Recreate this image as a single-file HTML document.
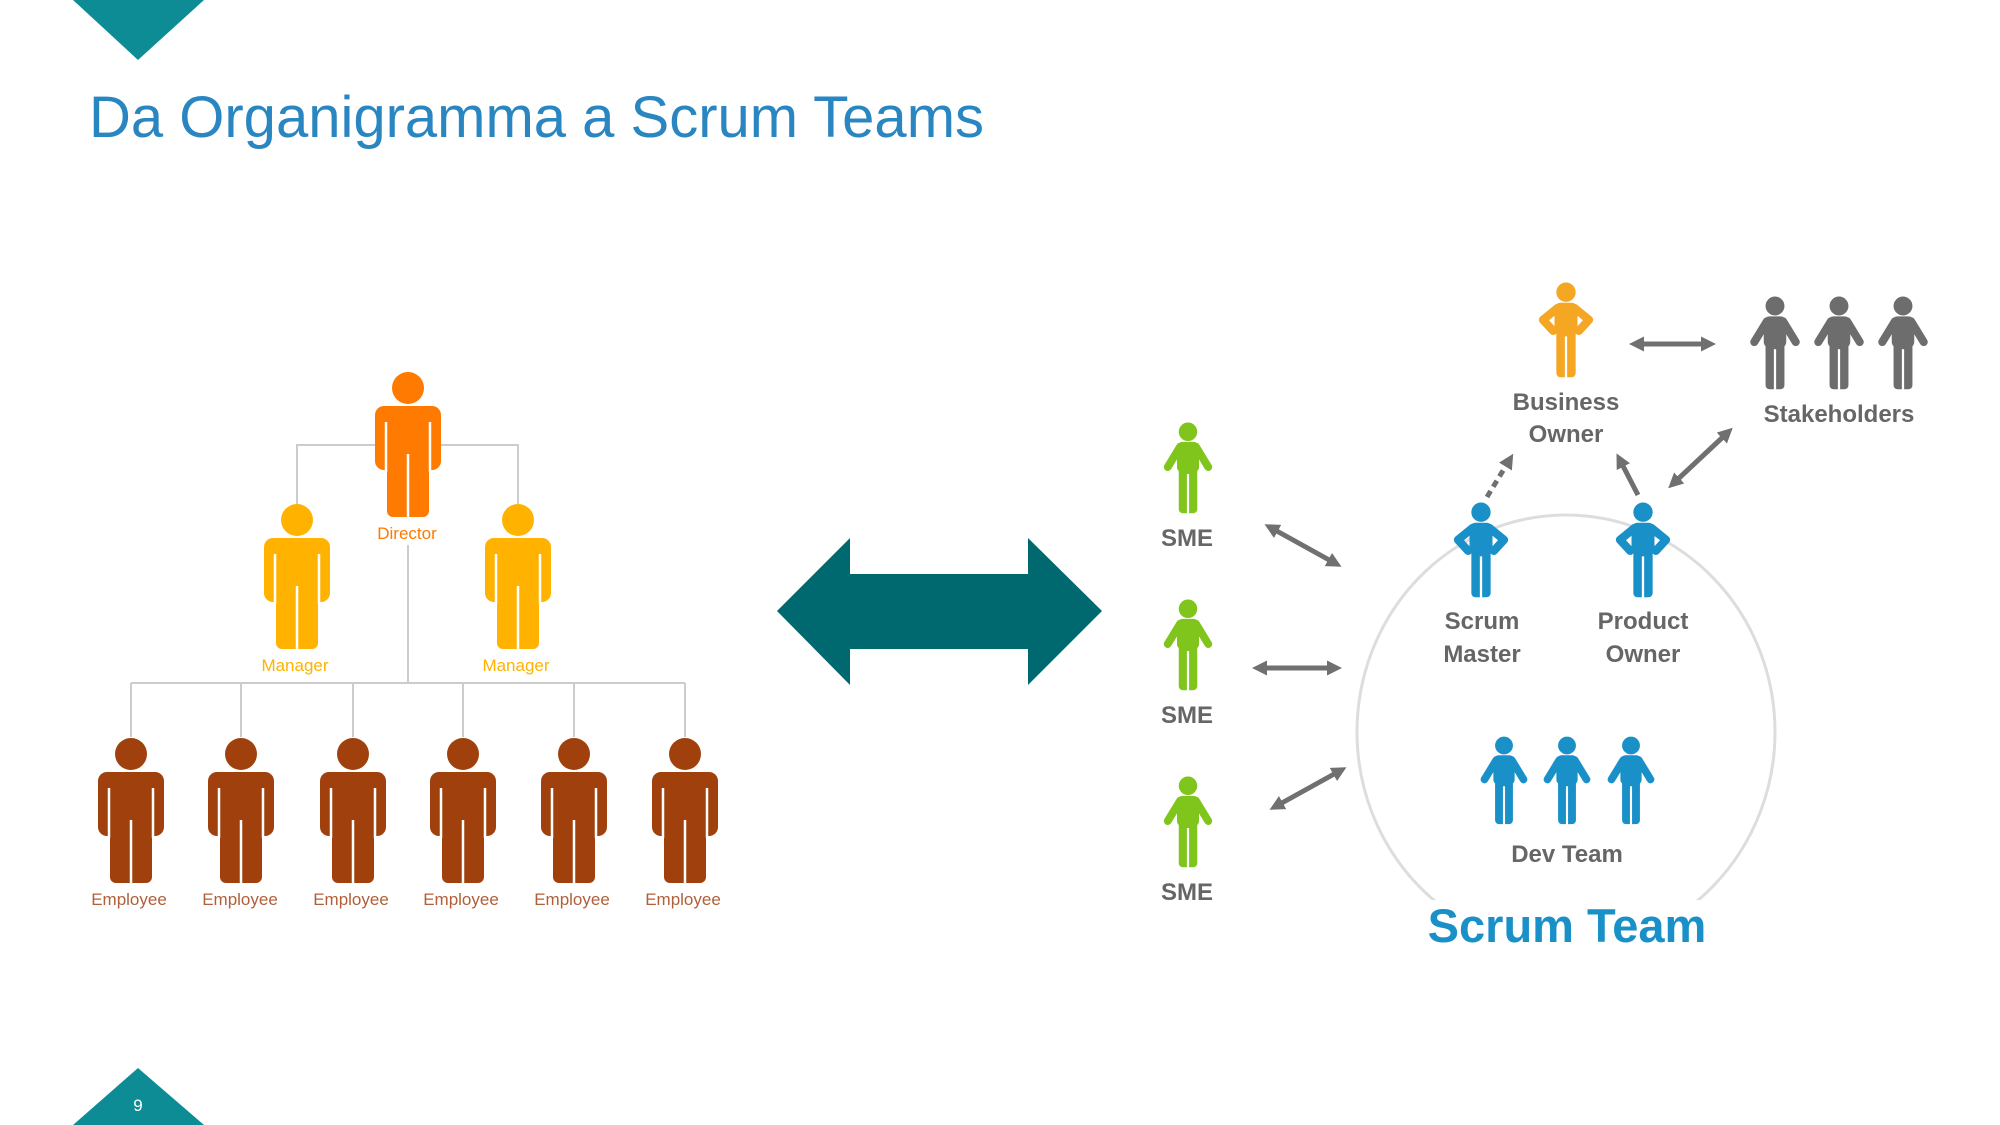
<!DOCTYPE html>
<html><head><meta charset="utf-8"><style>html,body{margin:0;padding:0;background:#fff;width:2000px;height:1125px;overflow:hidden}svg{display:block}</style></head>
<body>
<svg width="2000" height="1125" viewBox="0 0 2000 1125" xmlns="http://www.w3.org/2000/svg" font-family="Liberation Sans, sans-serif">
<defs>
<g id="p">
<circle cx="0" cy="-18" r="16"/>
<rect x="-33" y="0" width="66" height="64" rx="9"/>
<rect x="-21" y="40" width="42" height="71" rx="6"/>
</g>
<g id="pl" stroke="#fff" stroke-width="2.5">
<line x1="-22" y1="16" x2="-22" y2="66"/><line x1="22" y1="16" x2="22" y2="66"/>
<line x1="0" y1="48" x2="0" y2="112"/>
</g>
<g id="r">
<circle cx="0" cy="10" r="10"/>
<rect x="-12" y="22" width="24" height="34" rx="6"/>
<line x1="-9" y1="27" x2="-23" y2="50" stroke-width="9" stroke-linecap="round"/>
<line x1="9" y1="27" x2="23" y2="50" stroke-width="9" stroke-linecap="round"/>
<rect x="-10" y="48" width="20" height="54" rx="4"/>
<line x1="0" y1="58" x2="0" y2="103" stroke="#fff" stroke-width="2.5"/>
</g>
<g id="h">
<circle cx="0" cy="10" r="10"/>
<rect x="-12" y="22" width="24" height="34" rx="6"/>
<polyline points="-9,27 -25,40 -14,52" fill="none" stroke-width="9" stroke-linecap="round" stroke-linejoin="round"/>
<polyline points="9,27 25,40 14,52" fill="none" stroke-width="9" stroke-linecap="round" stroke-linejoin="round"/>
<rect x="-10" y="48" width="20" height="54" rx="4"/>
<line x1="0" y1="58" x2="0" y2="103" stroke="#fff" stroke-width="2.5"/>
</g>
<marker id="a" viewBox="0 0 10 10" refX="2" refY="5" markerWidth="3" markerHeight="3" orient="auto-start-reverse"><path d="M0,0L10,5L0,10z" fill="#707070"/></marker>
</defs>

<polygon points="73,0 204,0 138,60" fill="#0e8c96"/>
<polygon points="73,1125 204,1125 138,1068" fill="#0e8c96"/>
<text x="138" y="1111" font-size="17" fill="#fff" text-anchor="middle">9</text>
<text x="89" y="137" font-size="58" fill="#2a86c0">Da Organigramma a Scrum Teams</text>

<g stroke="#cccccc" stroke-width="2" fill="none">
<polyline points="297,504 297,445 518,445 518,504"/>
<line x1="408" y1="545" x2="408" y2="683"/>
<line x1="131" y1="683" x2="685" y2="683"/>
<line x1="131" y1="683" x2="131" y2="737"/><line x1="241" y1="683" x2="241" y2="737"/><line x1="353" y1="683" x2="353" y2="737"/><line x1="463" y1="683" x2="463" y2="737"/><line x1="574" y1="683" x2="574" y2="737"/><line x1="685" y1="683" x2="685" y2="737"/>
</g>
<g fill="#ff7a00" transform="translate(408,406)"><use href="#p"/><use href="#pl"/></g>
<g fill="#ffb300" transform="translate(297,538)"><use href="#p"/><use href="#pl"/></g>
<g fill="#ffb300" transform="translate(518,538)"><use href="#p"/><use href="#pl"/></g>
<g fill="#a0410d">
<g transform="translate(131,772)"><use href="#p"/><use href="#pl"/></g>
<g transform="translate(241,772)"><use href="#p"/><use href="#pl"/></g>
<g transform="translate(353,772)"><use href="#p"/><use href="#pl"/></g>
<g transform="translate(463,772)"><use href="#p"/><use href="#pl"/></g>
<g transform="translate(574,772)"><use href="#p"/><use href="#pl"/></g>
<g transform="translate(685,772)"><use href="#p"/><use href="#pl"/></g>
</g>
<g font-size="17" text-anchor="middle">
<text x="407" y="539" fill="#ff7a00">Director</text>
<text x="295" y="671" fill="#ffb300">Manager</text>
<text x="516" y="671" fill="#ffb300">Manager</text>
<g fill="#b0603a">
<text x="129" y="905">Employee</text><text x="240" y="905">Employee</text><text x="351" y="905">Employee</text><text x="461" y="905">Employee</text><text x="572" y="905">Employee</text><text x="683" y="905">Employee</text>
</g>
</g>

<polygon points="777,611 850,538 850,574 1028,574 1028,538 1102,611 1028,685 1028,649 850,649 850,685" fill="#006970"/>

<g transform="translate(-7,0)">
<ellipse cx="1573" cy="732" rx="209" ry="217" fill="none" stroke="#dddddd" stroke-width="3"/>
<rect x="1420" y="900" width="310" height="60" fill="#fff"/>
<g fill="#80c51c" stroke="#80c51c">
<g transform="translate(1195,423) scale(0.88)"><use href="#r"/></g>
<g transform="translate(1195,600) scale(0.88)"><use href="#r"/></g>
<g transform="translate(1195,777) scale(0.88)"><use href="#r"/></g>
</g>
<g fill="#f5a623" stroke="#f5a623"><g transform="translate(1573,283) scale(0.92)"><use href="#h"/></g></g>
<g fill="#6d6d6d" stroke="#6d6d6d">
<g transform="translate(1782,297) scale(0.9)"><use href="#r"/></g>
<g transform="translate(1846,297) scale(0.9)"><use href="#r"/></g>
<g transform="translate(1910,297) scale(0.9)"><use href="#r"/></g>
</g>
<g fill="#1a90c8" stroke="#1a90c8">
<g transform="translate(1488,503) scale(0.92)"><use href="#h"/></g>
<g transform="translate(1650,503) scale(0.92)"><use href="#h"/></g>
<g transform="translate(1511,737) scale(0.85)"><use href="#r"/></g>
<g transform="translate(1574,737) scale(0.85)"><use href="#r"/></g>
<g transform="translate(1638,737) scale(0.85)"><use href="#r"/></g>
</g>

<g stroke="#707070" stroke-width="5" fill="none">
<line x1="1648" y1="344" x2="1711" y2="344" marker-start="url(#a)" marker-end="url(#a)"/>
<line x1="1494" y1="497" x2="1514" y2="464" stroke-dasharray="7,5" marker-end="url(#a)"/>
<line x1="1645" y1="495" x2="1629" y2="464" marker-end="url(#a)"/>
<line x1="1684" y1="480" x2="1731" y2="436" marker-start="url(#a)" marker-end="url(#a)"/>
<line x1="1282" y1="530" x2="1338" y2="561" marker-start="url(#a)" marker-end="url(#a)"/>
<line x1="1271" y1="668" x2="1337" y2="668" marker-start="url(#a)" marker-end="url(#a)"/>
<line x1="1287" y1="804" x2="1343" y2="773" marker-start="url(#a)" marker-end="url(#a)"/>
</g>

<g font-size="24" font-weight="bold" fill="#666" text-anchor="middle">
<text x="1194" y="546">SME</text>
<text x="1194" y="723">SME</text>
<text x="1194" y="900">SME</text>
<text x="1573" y="410">Business</text>
<text x="1573" y="442">Owner</text>
<text x="1846" y="422">Stakeholders</text>
<text x="1489" y="629">Scrum</text>
<text x="1489" y="662">Master</text>
<text x="1650" y="629">Product</text>
<text x="1650" y="662">Owner</text>
<text x="1574" y="862">Dev Team</text>
</g>
<text x="1574" y="942" font-size="47" font-weight="bold" fill="#1a90c8" text-anchor="middle">Scrum Team</text>
</g>
</svg>
</body></html>
